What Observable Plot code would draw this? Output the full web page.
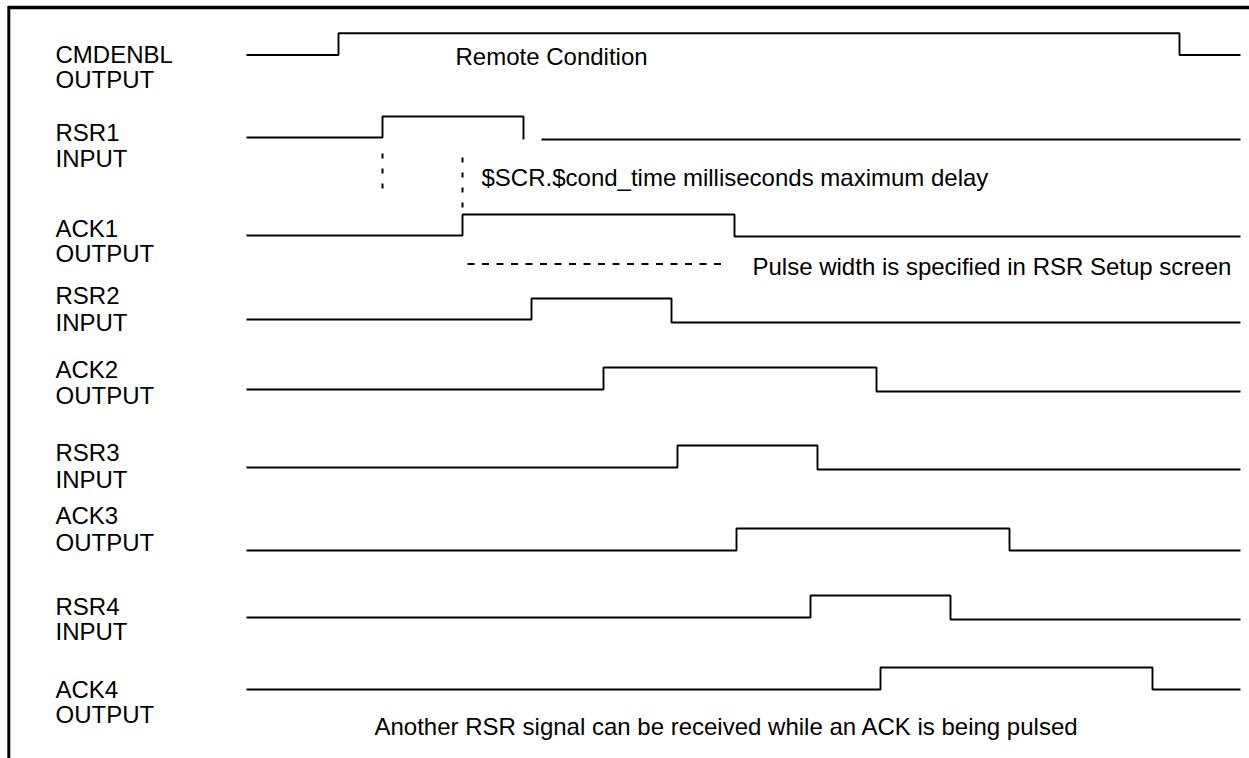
<!DOCTYPE html>
<html>
<head>
<meta charset="utf-8">
<script src="https://cdn.jsdelivr.net/npm/d3@7"></script>
<script src="https://cdn.jsdelivr.net/npm/@observablehq/plot@0.6"></script>
<style>
  html, body { margin: 0; padding: 0; background: #fff; }
  #chart svg { display: block; }
</style>
</head>
<body>
<div id="chart"></div>
<script>
// ---- data (time axis in arbitrary units, signal levels as track positions) ----
const signalNames = ["CMDENBL", "RSR1", "ACK1", "RSR2", "ACK2", "RSR3", "ACK3", "RSR4", "ACK4"];
const signalKinds = ["OUTPUT", "INPUT", "OUTPUT", "INPUT", "OUTPUT", "INPUT", "OUTPUT", "INPUT", "OUTPUT"];
const lowLevel      = [54.5, 137, 235, 319, 389, 467, 550, 617, 689];
const highLevel     = [32.7, 116, 214, 298, 367, 445, 528, 595, 667];
const lowAfterLevel = [54.5, 139, 236, 322, 391, 469, 550, 619, 689];
const riseTime   = [338, 382, 462, 531, 603, 677, 736, 810, 880];
const fallTime   = [1179, 523, 734, 671, 876, 817, 1009, 950, 1152];
const resumeTime = [1179, 541, 734, 671, 876, 817, 1009, 950, 1152];
const traceStart = 246;
const traceEnd = 1240;
const labelLine1 = [62, 140, 236, 303, 377, 460, 523, 614, 697];
const labelLine2 = [87, 166, 261, 330, 403, 487, 550, 639, 722];

const noteTexts = [
  "Remote Condition",
  "$SCR.$cond_time milliseconds maximum delay",
  "Pulse width is specified in RSR Setup screen",
  "Another RSR signal can be received while an ACK is being pulsed"
];
const noteTime  = [455, 481, 752, 374];
const noteLevel = [64, 185, 274, 734];

// dashed guides: [t1, level1, t2, level2]
const guideT1 = [382, 462, 467];
const guideL1 = [153, 157, 263.5];
const guideT2 = [382, 462, 725];
const guideL2 = [193, 213, 263.5];
const guideDash = ["5,10", "5,10", "7,7.5"];

// ---- build tables ----
const tracePoints = [];
signalNames.forEach((name, i) => {
  const seg1 = name + "-a";
  tracePoints.push({z: seg1, t: traceStart, v: lowLevel[i]});
  tracePoints.push({z: seg1, t: riseTime[i], v: lowLevel[i]});
  tracePoints.push({z: seg1, t: riseTime[i], v: highLevel[i]});
  tracePoints.push({z: seg1, t: fallTime[i], v: highLevel[i]});
  tracePoints.push({z: seg1, t: fallTime[i], v: lowAfterLevel[i]});
  if (resumeTime[i] === fallTime[i]) {
    tracePoints.push({z: seg1, t: traceEnd, v: lowAfterLevel[i]});
  } else {
    const seg2 = name + "-b";
    tracePoints.push({z: seg2, t: resumeTime[i], v: lowAfterLevel[i]});
    tracePoints.push({z: seg2, t: traceEnd, v: lowAfterLevel[i]});
  }
});

const labels = [];
signalNames.forEach((name, i) => {
  labels.push({text: name, v: labelLine1[i]});
  labels.push({text: signalKinds[i], v: labelLine2[i]});
});
const notes = noteTexts.map((text, i) => ({text, t: noteTime[i], v: noteLevel[i]}));
const guides = guideT1.map((t1, i) => ({t1, v1: guideL1[i], t2: guideT2[i], v2: guideL2[i], dash: guideDash[i]}));

const W = 1249, H = 758;
const font = "'Liberation Sans', Arial, Helvetica, sans-serif";

const chart = Plot.plot({
  width: W,
  height: H,
  margin: 0,
  style: {fontFamily: font, background: "#fff", color: "#000"},
  x: {domain: [0, W], range: [0, W], axis: null},
  y: {domain: [0, H], range: [0, H], axis: null},
  marks: [
    // frame (top and left border)
    Plot.ruleY([7], {x1: 8, x2: W, stroke: "#000", strokeWidth: 3.5}),
    Plot.ruleX([8.3], {y1: 6, y2: H, stroke: "#000", strokeWidth: 3}),
    // waveforms
    Plot.line(tracePoints, {x: "t", y: "v", z: "z", stroke: "#000", strokeWidth: 1.9, curve: "linear", strokeLinejoin: "miter", strokeLinecap: "butt"}),
    // dashed guides
    ...guides.map(g => Plot.link([g], {x1: "t1", y1: "v1", x2: "t2", y2: "v2", stroke: "#000", strokeWidth: 2, strokeDasharray: g.dash})),
    // signal labels
    Plot.text(labels, {x: () => 55, y: "v", text: "text", textAnchor: "start", lineAnchor: "bottom", fontSize: 24, fill: "#000"}),
    // annotations
    Plot.text(notes, {x: "t", y: "v", text: "text", textAnchor: "start", lineAnchor: "bottom", fontSize: 24, fill: "#000"})
  ]
});
document.getElementById("chart").appendChild(chart);
</script>
</body>
</html>
